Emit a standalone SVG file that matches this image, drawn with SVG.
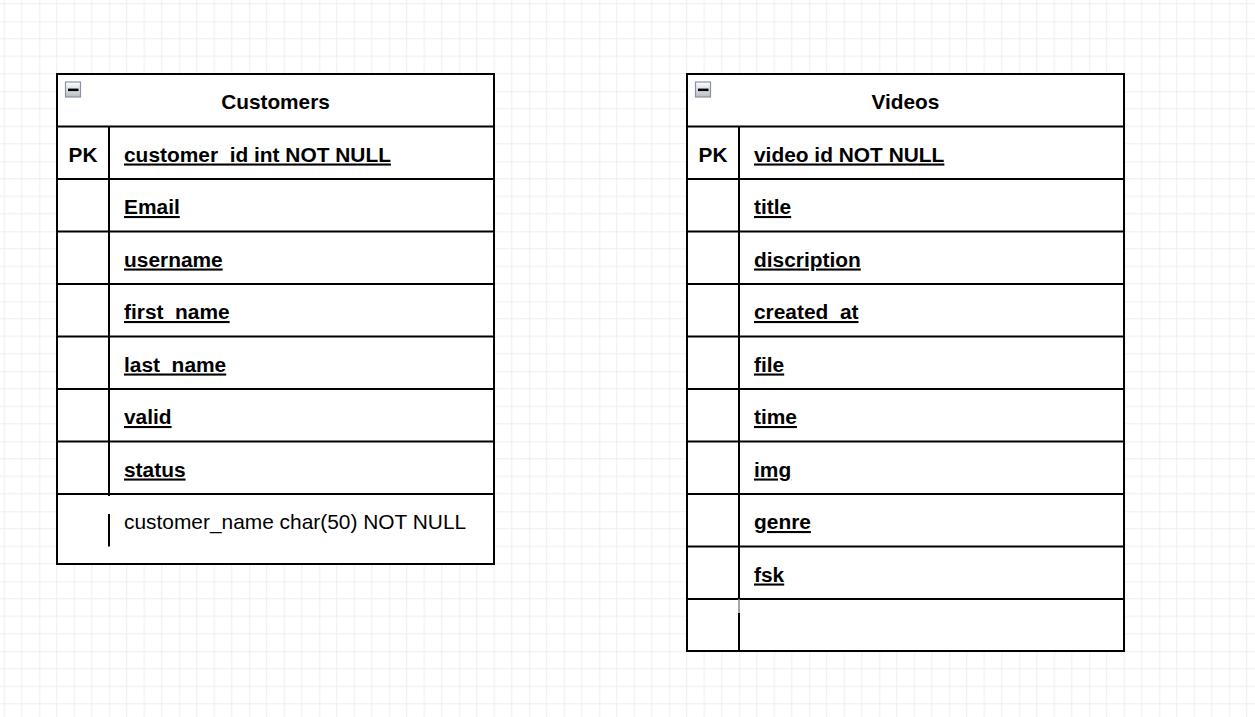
<svg xmlns="http://www.w3.org/2000/svg" width="1255" height="717" viewBox="0 0 1255 717">
<defs>
<pattern id="grid" x="39.3" y="21.3" width="70" height="70" patternUnits="userSpaceOnUse">
<path d="M17.5 0V70M35 0V70M52.5 0V70M0 17.5H70M0 35H70M0 52.5H70" stroke="#eeeeee" stroke-width="1" fill="none"/>
<path d="M0 0V70M0 0H70" stroke="#e0e0e0" stroke-width="1" fill="none"/>
</pattern>
<linearGradient id="ig" x1="0" y1="0" x2="0" y2="1">
<stop offset="0" stop-color="#ffffff"/>
<stop offset="1" stop-color="#b8bcc4"/>
</linearGradient>
</defs>
<style>
.frame{fill:#ffffff;stroke:#000;stroke-width:2}
.ln{stroke:#000;stroke-width:2;fill:none}
.title{font-family:"Liberation Sans",Arial,sans-serif;font-size:20.8px;font-weight:bold;text-anchor:middle;fill:#000}
.pk{font-family:"Liberation Sans",Arial,sans-serif;font-size:20.8px;font-weight:bold;text-anchor:middle;fill:#000}
.fld{font-family:"Liberation Sans",Arial,sans-serif;font-size:20.9px;font-weight:bold;text-decoration:underline;fill:#000}
.plain{font-family:"Liberation Sans",Arial,sans-serif;font-size:20.9px;fill:#000}
.ib{fill:url(#ig);stroke:#8a93a3;stroke-width:1.2}
</style>
<rect width="1255" height="717" fill="#ffffff"/>
<rect width="1255" height="717" fill="url(#grid)"/>

<g id="customers">
<rect class="frame" x="57" y="74" width="437" height="490"/>
<path class="ln" d="M57 126.5H494M57 179H494M57 231.5H494M57 284H494M57 336.5H494M57 389H494M57 441.5H494M57 494H494"/>
<path class="ln" d="M109 126.5V496M109 514V546.5"/>
<rect class="ib" x="65.5" y="82" width="15" height="15"/>
<rect x="68" y="88.6" width="10.5" height="2.5" fill="#000"/>
<text class="title" x="275.5" y="109">Customers</text>
<text class="pk" x="83" y="161.5">PK</text>
<text class="fld" x="124" y="161.5">customer_id int NOT NULL</text>
<text class="fld" x="124" y="214">Email</text>
<text class="fld" x="124" y="266.5">username</text>
<text class="fld" x="124" y="319">first_name</text>
<text class="fld" x="124" y="371.5">last_name</text>
<text class="fld" x="124" y="424">valid</text>
<text class="fld" x="124" y="476.5">status</text>
<text class="plain" x="124" y="529">customer_name char(50) NOT NULL</text>
</g>

<g id="videos">
<rect class="frame" x="687" y="74" width="437" height="577"/>
<path class="ln" d="M687 126.5H1124M687 179H1124M687 231.5H1124M687 284H1124M687 336.5H1124M687 389H1124M687 441.5H1124M687 494H1124M687 546.5H1124M687 599H1124"/>
<path class="ln" d="M739 126.5V599"/>
<path d="M739 599V613" stroke="#888" stroke-width="1.5"/>
<path class="ln" d="M739 613V651"/>
<rect class="ib" x="695.5" y="82" width="15" height="15"/>
<rect x="698" y="88.6" width="10.5" height="2.5" fill="#000"/>
<text class="title" x="905.5" y="109">Videos</text>
<text class="pk" x="713" y="161.5">PK</text>
<text class="fld" x="754" y="161.5">video id NOT NULL</text>
<text class="fld" x="754" y="214">title</text>
<text class="fld" x="754" y="266.5">discription</text>
<text class="fld" x="754" y="319">created_at</text>
<text class="fld" x="754" y="371.5">file</text>
<text class="fld" x="754" y="424">time</text>
<text class="fld" x="754" y="476.5">img</text>
<text class="fld" x="754" y="529">genre</text>
<text class="fld" x="754" y="581.5">fsk</text>
</g>

<g id="connectors"></g>
</svg>
